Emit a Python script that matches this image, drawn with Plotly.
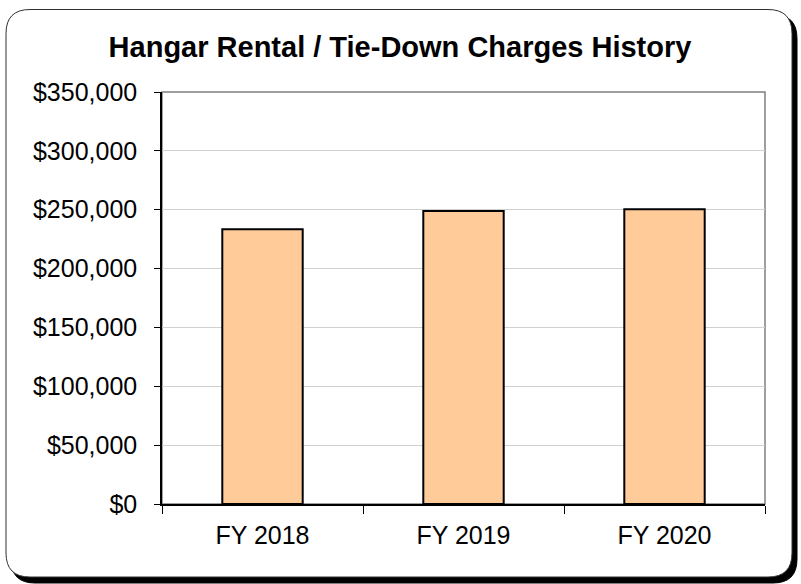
import plotly.graph_objects as go

categories = ["FY 2018", "FY 2019", "FY 2020"]
charges = [233500, 249000, 250300]
y_ticks = [0, 50000, 100000, 150000, 200000, 250000, 300000, 350000]
y_tick_labels = ["$" + format(v, ",") for v in y_ticks]

W, H = 801, 584
L, R, T, B = 162, 36, 92, 80
PW, PH = W - L - R, H - T - B


def px(x):
    return (x - L) / PW


def py(y):
    return (H - B - y) / PH


def rrect(x0, y0, x1, y1, r):
    return (f"M {px(x0 + r)} {py(y0)} L {px(x1 - r)} {py(y0)} "
            f"Q {px(x1)} {py(y0)} {px(x1)} {py(y0 + r)} "
            f"L {px(x1)} {py(y1 - r)} "
            f"Q {px(x1)} {py(y1)} {px(x1 - r)} {py(y1)} "
            f"L {px(x0 + r)} {py(y1)} "
            f"Q {px(x0)} {py(y1)} {px(x0)} {py(y1 - r)} "
            f"L {px(x0)} {py(y0 + r)} "
            f"Q {px(x0)} {py(y0)} {px(x0 + r)} {py(y0)} Z")


fig = go.Figure()
fig.add_trace(go.Bar(
    x=categories, y=charges, width=0.4,
    marker=dict(color="#FFCC99", line=dict(color="black", width=2)),
    hoverinfo="x+y",
))

font_family = "Liberation Sans, Arial, sans-serif"

shapes = [
    dict(type="path", xref="paper", yref="paper", layer="below",
         path=rrect(11, 14.5, 797, 583, 24), fillcolor="black",
         line=dict(color="black", width=1)),
    dict(type="path", xref="paper", yref="paper", layer="below",
         path=rrect(6, 9.5, 792, 577, 24), fillcolor="white",
         line=dict(color="#303030", width=1)),
    dict(type="rect", xref="paper", yref="paper", layer="below",
         x0=0, y0=0, x1=1, y1=1, fillcolor="rgba(0,0,0,0)",
         line=dict(color="#808080", width=1.5)),
]

fig.update_layout(
    width=W, height=H,
    margin=dict(l=L, r=R, t=T, b=B, pad=0),
    paper_bgcolor="white", plot_bgcolor="white",
    font=dict(family=font_family, color="black", size=25),
    title=dict(text="Hangar Rental / Tie-Down Charges History",
               x=400 / W, xref="container", xanchor="center",
               y=1 - 47 / H, yref="container", yanchor="middle",
               font=dict(family=font_family, size=29, weight="bold", color="black")),
    showlegend=False,
    bargap=0.6,
    shapes=shapes,
)

fig.update_xaxes(
    type="category", tickson="boundaries", ticks="outside", ticklen=8,
    tickcolor="black", tickwidth=1, showline=True, linecolor="black",
    linewidth=1.5, showgrid=False, ticklabelstandoff=8,
    tickfont=dict(size=25, family=font_family, color="black"),
)
fig.update_yaxes(
    range=[0, 350000], tickmode="array", tickvals=y_ticks, ticktext=y_tick_labels,
    ticks="outside", ticklen=6, tickcolor="black", tickwidth=1,
    showline=True, linecolor="black", linewidth=1.5,
    showgrid=True, gridcolor="#D0D0D0", gridwidth=1, zeroline=False,
    ticklabelstandoff=12,
    tickfont=dict(size=25, family=font_family, color="black"),
)

fig.write_html("out.html", config={"displayModeBar": False},
               post_script="document.body.style.margin='0';document.body.style.overflow='hidden';")
